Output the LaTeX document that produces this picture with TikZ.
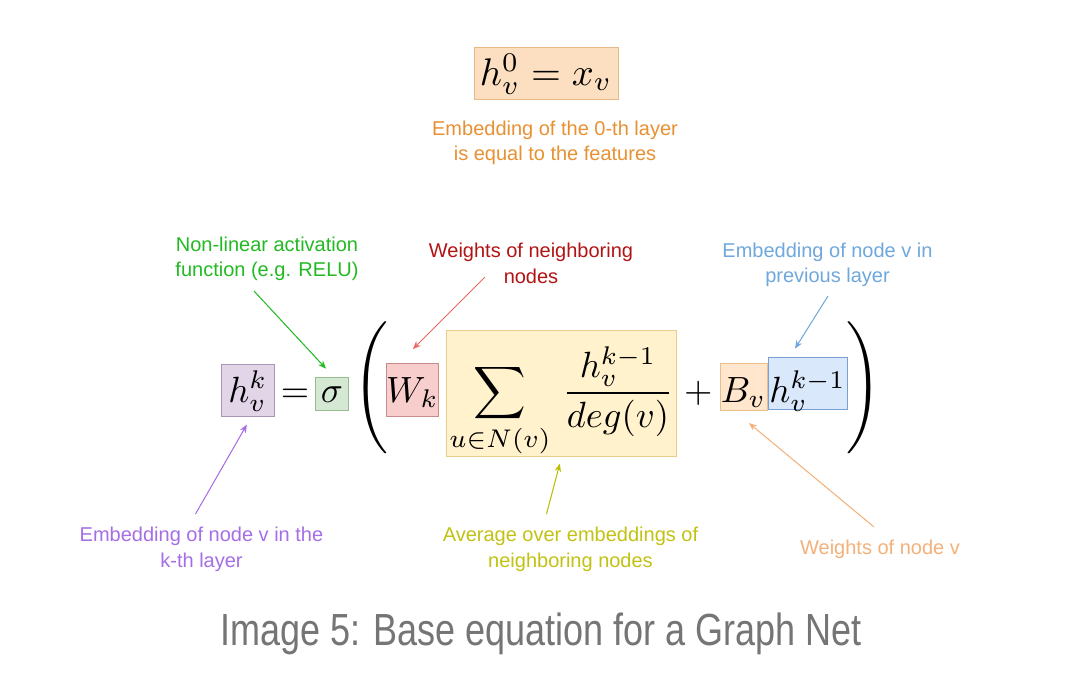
\documentclass[tikz,border=0pt]{standalone}
\usepackage{amsmath}
\usepackage{graphicx}
\usepackage{fontspec}
\setsansfont{Liberation Sans}
\newfontfamily\capfont{Liberation Sans}[FakeStretch=0.8]
\usetikzlibrary{arrows.meta}
\definecolor{topfill}{RGB}{252,222,192}
\definecolor{topdraw}{RGB}{232,184,135}
\definecolor{topTxt}{RGB}{232,145,50}
\definecolor{purfill}{RGB}{225,213,231}
\definecolor{purdraw}{RGB}{170,150,180}
\definecolor{purTxt}{RGB}{166,110,230}
\definecolor{grnfill}{RGB}{213,232,212}
\definecolor{grndraw}{RGB}{150,190,140}
\definecolor{grnTxt}{RGB}{34,186,34}
\definecolor{redfill}{RGB}{248,206,204}
\definecolor{reddraw}{RGB}{200,140,140}
\definecolor{redTxt}{RGB}{178,20,20}
\definecolor{redArr}{RGB}{234,107,102}
\definecolor{yelfill}{RGB}{255,242,204}
\definecolor{yeldraw}{RGB}{230,205,140}
\definecolor{yelTxt}{RGB}{194,194,20}
\definecolor{yelArr}{RGB}{190,190,0}
\definecolor{orgfill}{RGB}{255,230,204}
\definecolor{orgdraw}{RGB}{235,190,140}
\definecolor{orgTxt}{RGB}{244,177,122}
\definecolor{blufill}{RGB}{218,232,252}
\definecolor{bludraw}{RGB}{120,160,210}
\definecolor{bluTxt}{RGB}{111,168,220}
\definecolor{capTxt}{RGB}{117,117,117}
\newcommand{\BM}[1]{\scalebox{3.65}{$#1$}}
\newcommand{\TM}[1]{\scalebox{3.85}{$#1$}}
\tikzset{
  eqbox/.style={draw, line width=0.8pt, inner sep=0pt, anchor=base},
  lbl/.style={font=\sffamily\fontsize{20}{25.5}\selectfont, align=center},
  arr/.style={line width=1pt, -{Stealth[length=8pt,width=6.5pt,inset=2.5pt]}},
}
\begin{document}
\begin{tikzpicture}[x=1pt,y=-1pt]
\useasboundingbox[fill=white] (0,0) rectangle (1080,678);

% top formula
\node[eqbox, fill=topfill, draw=topdraw, minimum width=144pt, text height=38pt, text depth=14pt] (h0) at (546,85) {\TM{h_v^0 = x_v}};
\node[lbl, text=topTxt] (l0) at (555,143) {Embedding of the 0-th layer\\is equal to the features};

% main equation (common baseline y=402)
\node[eqbox, fill=purfill, draw=purdraw, minimum width=52.3pt, text height=38pt, text depth=14.7pt] (hk) at (247.85,402) {\BM{h_v^k}};
\node[inner sep=0pt, anchor=base] (eq) at (295,402) {\BM{=}};
\node[eqbox, fill=grnfill, draw=grndraw, minimum width=32.6pt, text height=25pt, text depth=8pt] (sig) at (332,402) {\BM{\sigma}};
\node[inner sep=0pt] (lp) at (374,391.5) {\scalebox{4.4}{$\left(\vrule height 14pt depth 14pt width 0pt\right.$}};
\node[eqbox, fill=redfill, draw=reddraw, minimum width=52.7pt, text height=39pt, text depth=14.7pt] (wk) at (412.35,402) {\BM{W_k}};
\node[eqbox, fill=yelfill, draw=yeldraw, minimum width=230.7pt, text height=71.3pt, text depth=54.7pt] (sum) at (561.35,402) {\BM{\displaystyle\sum_{u\in N(v)}\mkern3mu\frac{h_v^{k-1}}{deg(v)}}};
\node[inner sep=0pt, anchor=base] (plus) at (698.3,402) {\BM{+}};
\node[eqbox, fill=orgfill, draw=orgdraw, minimum width=47pt, text height=39pt, text depth=8.7pt] (bv) at (743.5,402) {\BM{B_v}};
\node[eqbox, fill=blufill, draw=bludraw, minimum width=79pt, text height=45pt, text depth=7pt] (hp) at (807.5,402) {\BM{h_v^{k-1}}};
\node[inner sep=0pt] (rp) at (861,391.5) {\scalebox{4.4}{$\left.\vrule height 14pt depth 14pt width 0pt\right)$}};

% labels
\node[lbl, text=grnTxt] (lg) at (267,259) {Non-linear activation\\function (e.g. RELU)};
\node[lbl, text=redTxt] (lr) at (531,263.5) {Weights of neighboring\\nodes};
\node[lbl, text=bluTxt] (lb) at (827.5,265) {Embedding of node v in\\previous layer};
\node[lbl, text=purTxt] (lpu) at (201.5,549.5) {Embedding of node v in the\\k-th layer};
\node[lbl, text=yelTxt] (ly) at (570.5,549.5) {Average over embeddings of\\neighboring nodes};
\node[lbl, text=orgTxt] (lo) at (880,549) {Weights of node v};

\node[font=\capfont\fontsize{45}{50}\selectfont, text=capTxt, inner sep=0pt] (cap) at (541,634) {Image 5: Base equation for a Graph Net};

% arrow start points
\coordinate (gS) at (254,291);
\coordinate (rS) at (485,277);
\coordinate (bS) at (828,296);
\coordinate (pS) at (195.5,514);
\coordinate (yS) at (546.5,514);
\coordinate (oS) at (874,527);

\draw[arr, draw=grnTxt, fill=grnTxt] (gS) -- ([shift={(-6,-8)}]sig.north);
\draw[arr, draw=redArr, fill=redArr] (rS) -- ([shift={(0.5,-13.5)}]wk.north);
\draw[arr, draw=bluTxt, fill=bluTxt] (bS) -- ([shift={(-12.5,-8)}]hp.north);
\draw[arr, draw=purTxt, fill=purTxt] (pS) -- ([shift={(-1,7.5)}]hk.south);
\draw[arr, draw=yelArr, fill=yelArr] (yS) -- ([shift={(-1.5,6.5)}]sum.south);
\draw[arr, draw=orgTxt, fill=orgTxt] (oS) -- ([shift={(5.5,12)}]bv.south);
\end{tikzpicture}
\end{document}
